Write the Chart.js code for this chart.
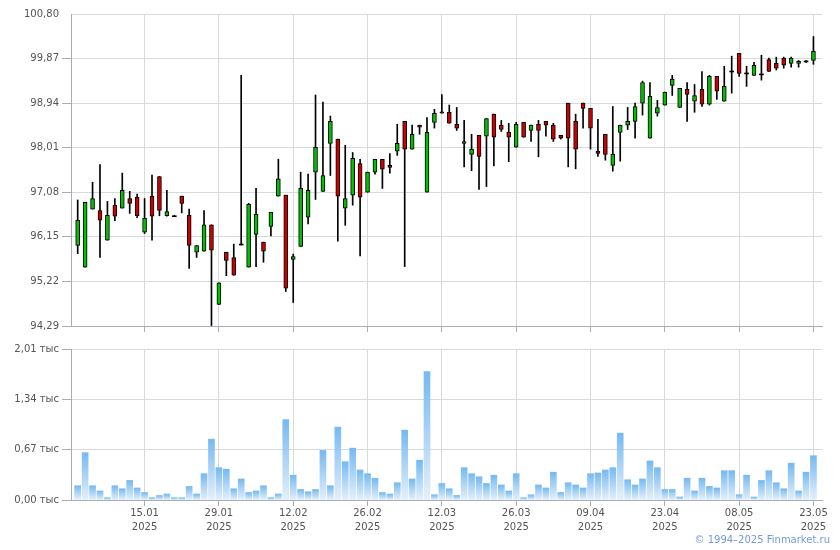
<!DOCTYPE html>
<html>
<head>
<meta charset="utf-8">
<script src="https://cdn.jsdelivr.net/npm/chart.js@4.4.1/dist/chart.umd.min.js"></script>
<style>
    html, body { margin: 0; padding: 0; background: #fff; }
    #wrap { position: relative; width: 840px; height: 550px; overflow: hidden; }
    canvas { position: absolute; left: 0; }
    #price { top: 0; }
    #volume { top: 340px; }
    #copy {
        position: absolute; right: 10px; top: 534px;
        font: 10px "DejaVu Sans", sans-serif; color: #7598e0; white-space: nowrap;
    }
</style>
</head>
<body>
<div id="wrap">
    <canvas id="price" width="840" height="340"></canvas>
    <canvas id="volume" width="840" height="210"></canvas>
    <div id="copy">© 1994–2025 Finmarket.ru</div>
</div>
<script>
// price data, one entry per trading day
const opens = [95.97, 95.52, 96.73, 96.70, 96.08, 96.81, 96.75, 96.95, 96.98, 96.25,
    97.00, 97.41, 96.59, 96.58, 97.00, 96.60, 95.83, 95.85, 96.40, 94.74,
    95.83, 95.72, 96.00, 95.52, 96.20, 96.04, 96.37, 97.00, 97.02, 95.68,
    95.95, 96.56, 97.50, 97.10, 98.10, 98.19, 96.75, 97.02, 97.68, 97.08,
    97.50, 97.77, 97.64, 97.94, 98.56, 97.98, 98.48, 97.08, 98.54, 98.76,
    98.75, 98.50, 98.10, 97.87, 98.27, 98.25, 98.71, 98.48, 98.33, 98.02,
    98.54, 98.37, 98.50, 98.56, 98.48, 98.27, 98.94, 98.56, 98.94, 98.83,
    97.94, 98.29, 97.64, 98.33, 98.48, 98.56, 98.94, 98.21, 98.73, 98.90,
    99.31, 98.85, 99.23, 98.98, 99.23, 98.92, 99.50, 98.98, 99.60, 99.98,
    99.56, 99.52, 99.54, 99.85, 99.77, 99.88, 99.77, 99.77, 99.81, 99.83];
const highs = [96.92, 96.87, 97.29, 97.66, 96.89, 96.95, 97.48, 97.10, 97.04, 96.95,
    97.44, 97.41, 97.12, 96.60, 97.00, 96.73, 95.97, 96.70, 96.40, 95.19,
    95.83, 96.00, 99.52, 96.85, 97.16, 96.04, 96.66, 97.77, 97.02, 95.79,
    97.50, 97.46, 99.11, 98.96, 98.67, 98.19, 98.06, 97.91, 97.77, 97.50,
    97.77, 97.77, 97.89, 98.50, 98.56, 98.48, 98.48, 98.64, 98.81, 99.12,
    98.90, 98.85, 98.58, 98.29, 98.27, 98.62, 98.71, 98.58, 98.52, 98.54,
    98.54, 98.48, 98.58, 98.56, 98.52, 98.27, 98.94, 98.71, 98.94, 98.83,
    98.60, 98.29, 98.87, 98.48, 98.85, 98.94, 99.40, 99.37, 99.00, 99.17,
    99.52, 99.25, 99.37, 99.33, 99.60, 99.52, 99.50, 99.71, 99.92, 99.98,
    99.71, 99.79, 99.94, 99.88, 99.90, 99.90, 99.90, 99.83, 99.83, 100.33];
const lows = [95.80, 95.52, 96.73, 95.72, 96.08, 96.49, 96.75, 96.64, 96.55, 96.22,
    96.08, 96.59, 96.58, 96.57, 96.65, 95.49, 95.72, 95.85, 94.30, 94.74,
    95.34, 95.35, 95.98, 95.52, 95.53, 95.62, 96.17, 97.00, 95.01, 94.78,
    95.95, 96.42, 96.93, 97.10, 97.43, 96.06, 96.39, 96.81, 95.75, 97.08,
    97.46, 97.16, 97.48, 97.85, 95.53, 97.98, 98.29, 97.08, 98.42, 98.73,
    98.52, 98.37, 97.61, 97.53, 97.14, 97.20, 97.63, 98.35, 97.72, 98.02,
    98.23, 98.14, 97.82, 98.25, 98.14, 98.19, 97.61, 97.57, 98.42, 97.98,
    97.83, 97.75, 97.52, 97.73, 98.39, 98.21, 98.69, 98.21, 98.67, 98.90,
    99.10, 98.85, 98.56, 98.75, 98.87, 98.90, 99.02, 98.98, 99.15, 99.50,
    99.29, 99.52, 99.42, 99.60, 99.63, 99.67, 99.69, 99.69, 99.79, 99.75];
const closes = [96.50, 96.87, 96.95, 96.50, 96.60, 96.58, 97.12, 96.85, 96.59, 96.54,
    96.58, 96.70, 96.68, 96.58, 96.85, 95.97, 95.97, 96.40, 95.87, 95.19,
    95.66, 95.35, 95.99, 96.83, 96.62, 95.85, 96.66, 97.36, 95.08, 95.74,
    97.16, 97.12, 98.02, 97.43, 98.56, 97.00, 96.95, 97.79, 96.98, 97.50,
    97.77, 97.56, 97.60, 98.10, 97.98, 98.29, 98.44, 98.33, 98.73, 98.73,
    98.52, 98.42, 98.14, 97.98, 97.83, 98.62, 98.23, 98.39, 98.23, 98.50,
    98.23, 98.48, 98.37, 98.48, 98.19, 98.21, 98.21, 97.98, 98.83, 98.42,
    97.89, 97.87, 97.87, 98.48, 98.56, 98.87, 99.37, 99.08, 98.85, 99.17,
    99.44, 99.25, 99.12, 99.10, 98.92, 99.50, 99.19, 99.29, 99.60, 99.56,
    99.56, 99.73, 99.54, 99.60, 99.67, 99.73, 99.88, 99.81, 99.81, 100.02];
// volume, thousands
const volumes = [0.19, 0.63, 0.19, 0.12, 0.03, 0.19, 0.15, 0.26, 0.16, 0.10,
    0.03, 0.06, 0.08, 0.03, 0.03, 0.18, 0.08, 0.35, 0.81, 0.43,
    0.41, 0.15, 0.28, 0.10, 0.12, 0.19, 0.03, 0.08, 1.07, 0.33,
    0.14, 0.11, 0.14, 0.66, 0.19, 0.97, 0.51, 0.69, 0.40, 0.35,
    0.29, 0.10, 0.08, 0.23, 0.93, 0.28, 0.53, 1.71, 0.07, 0.22,
    0.15, 0.06, 0.43, 0.35, 0.31, 0.22, 0.33, 0.20, 0.12, 0.35,
    0.03, 0.07, 0.20, 0.16, 0.37, 0.10, 0.23, 0.20, 0.16, 0.35,
    0.36, 0.40, 0.43, 0.89, 0.27, 0.20, 0.28, 0.52, 0.43, 0.14,
    0.14, 0.04, 0.29, 0.12, 0.29, 0.18, 0.16, 0.39, 0.39, 0.07,
    0.33, 0.04, 0.26, 0.39, 0.23, 0.15, 0.49, 0.12, 0.37, 0.59];

const dateTickIdx = [9, 19, 29, 39, 49, 59, 69, 79, 89, 99];
const dateTickLabels = ['15.01', '29.01', '12.02', '26.02', '12.03', '26.03', '09.04', '23.04', '08.05', '23.05'];
const yearLabel = '2025';
const priceTicks = [94.29, 95.22, 96.15, 97.08, 98.01, 98.94, 99.87, 100.80];
const volumeTicks = [0, 0.67, 1.34, 2.01];

const GRID = '#d5dade';
const AXIS = '#a9adb8';
const TEXT = '#555555';
const FONT = { family: 'DejaVu Sans', size: 10 };

function commaNum(v) {
    return v.toFixed(2).replace('.', ',');
}

// shared x axis, same in both charts so the candles and volume bars line up
function xAxis(showLabels, height) {
    return {
        type: 'linear',
        min: -0.9,
        max: 100.15,
        offset: false,
        afterBuildTicks: s => { s.ticks = dateTickIdx.map(v => ({ value: v })); },
        afterFit: s => { s.height = height; },
        grid: { color: GRID, offset: false, tickLength: 6, tickColor: AXIS },
        border: { color: AXIS },
        ticks: {
            display: showLabels,
            padding: 0,
            maxRotation: 0,
            autoSkip: false,
            color: TEXT,
            font: { ...FONT, lineHeight: 1.4 },
            callback: v => [dateTickLabels[dateTickIdx.indexOf(v)], yearLabel]
        }
    };
}

function yAxis(min, max, tickList, fmt) {
    return {
        min: min,
        max: max,
        afterBuildTicks: s => { s.ticks = tickList.map(v => ({ value: v })); },
        afterFit: s => { s.width = 71; },
        grid: {
            color: GRID,
            tickLength: 9,
            tickColor: c => (c.tick && c.tick.value === 100.80) ? 'rgba(0,0,0,0)' : AXIS
        },
        border: { color: AXIS },
        ticks: { padding: 3, color: TEXT, font: FONT, callback: fmt }
    };
}

const idx = opens.map((_, i) => i);
const isDoji = i => Math.abs(opens[i] - closes[i]) < 0.015;

const bodies = idx.map(i => {
    const lo = Math.min(opens[i], closes[i]);
    const hi = Math.max(opens[i], closes[i]);
    return { x: i, y: isDoji(i) ? [closes[i] - 0.01, closes[i] + 0.01] : [lo, hi] };
});
const wicks = idx.map(i => ({ x: i, y: [lows[i], highs[i]] }));

new Chart(document.getElementById('price'), {
    type: 'bar',
    data: {
        datasets: [
            {
                data: bodies,
                grouped: false,
                barThickness: 4,
                borderWidth: c => isDoji(c.dataIndex) ? 0 : 1,
                borderColor: '#000',
                borderSkipped: false,
                backgroundColor: c => {
                    const i = c.dataIndex;
                    if (isDoji(i)) return '#000';
                    return closes[i] > opens[i] ? '#00c000' : '#cc0000';
                }
            },
            {
                data: wicks,
                grouped: false,
                barThickness: 1,
                borderWidth: 0,
                backgroundColor: '#000'
            }
        ]
    },
    options: {
        responsive: false,
        animation: false,
        layout: { padding: { top: 14, right: 18, left: 0, bottom: 0 } },
        plugins: { legend: { display: false }, tooltip: { enabled: false } },
        scales: {
            x: xAxis(false, 14),
            y: yAxis(94.29, 100.80, priceTicks, v => commaNum(v))
        }
    }
});

new Chart(document.getElementById('volume'), {
    type: 'bar',
    data: {
        datasets: [{
            data: idx.map(i => ({ x: i, y: volumes[i] })),
            barThickness: 6,
            borderWidth: 0,
            backgroundColor: c => {
                const chart = c.chart;
                if (!chart.chartArea || c.dataIndex === undefined) return '#a9d2f6';
                const y = chart.scales.y;
                const top = y.getPixelForValue(volumes[c.dataIndex]);
                const base = y.getPixelForValue(0);
                const g = chart.ctx.createLinearGradient(0, top, 0, base + 0.01);
                g.addColorStop(0, '#76b9f1');
                g.addColorStop(1, '#e4f0fb');
                return g;
            }
        }]
    },
    options: {
        responsive: false,
        animation: false,
        layout: { padding: { top: 9, right: 18, left: 0, bottom: 0 } },
        plugins: { legend: { display: false }, tooltip: { enabled: false } },
        scales: {
            x: xAxis(true, 50),
            y: yAxis(0, 2.01, volumeTicks, v => commaNum(v) + ' тыс')
        }
    }
});
</script>
</body>
</html>
